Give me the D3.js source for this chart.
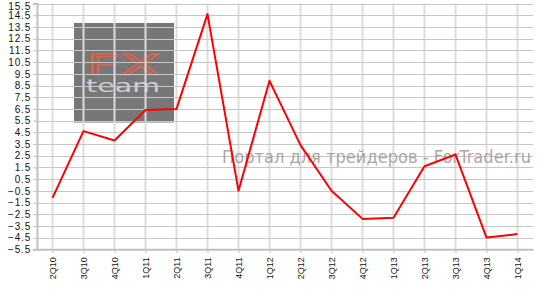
<!DOCTYPE html>
<html>
<head>
<meta charset="utf-8">
<script src="https://cdn.jsdelivr.net/npm/d3@7"></script>
<style>
  body { margin: 0; background: #fff; }
  svg { display: block; font-family: "DejaVu Sans", Verdana, sans-serif; }
</style>
</head>
<body>
<svg width="538" height="293"></svg>
<script>
// quarters and values
var quarters = ['2Q10', '3Q10', '4Q10', '1Q11', '2Q11', '3Q11', '4Q11', '1Q12',
                '2Q12', '3Q12', '4Q12', '1Q13', '2Q13', '3Q13', '4Q13', '1Q14'];
var values = [-1.1, 4.6, 3.8, 6.4, 6.5, 14.6, -0.5, 8.9,
              3.4, -0.5, -2.9, -2.8, 1.6, 2.6, -4.5, -4.2];
var yTicks = d3.range(-5.5, 15.6, 1);
var watermark = 'Портал для трейдеров - ForTrader.ru';

var svg = d3.select('svg');
var plot = {l: 37, r: 533, t: 3.6, b: 249.3};

var xScale = d3.scalePoint()
    .domain(quarters)
    .range([plot.l, plot.r])
    .padding(0.5);

var yScale = d3.scaleLinear()
    .domain([-5.5, 15.5])
    .range([plot.b, plot.t]);

// logo box (sits under the grid)
var logo = svg.append('g').attr('class', 'logo');
logo.append('rect')
    .attr('x', 74).attr('y', 23)
    .attr('width', 100).attr('height', 99.5)
    .attr('fill', '#777777');
logo.append('text')
    .attr('x', 86).attr('y', 75)
    .attr('textLength', 74).attr('lengthAdjust', 'spacingAndGlyphs')
    .style('font-size', '29px')
    .attr('fill', 'none').attr('stroke', '#d8644f').attr('stroke-width', 1.4)
    .text('FX');
logo.append('text')
    .attr('x', 86).attr('y', 92)
    .attr('textLength', 74).attr('lengthAdjust', 'spacingAndGlyphs')
    .style('font-size', '18px')
    .attr('fill', '#d0d0d0')
    .text('team');

// vertical grid
svg.append('g')
    .attr('class', 'x-grid')
    .selectAll('line')
    .data(quarters)
    .enter()
    .append('line')
    .attr('x1', d => xScale(d)).attr('x2', d => xScale(d))
    .attr('y1', plot.t).attr('y2', plot.b)
    .attr('stroke', '#dcdcdc').attr('stroke-width', 2);

// horizontal grid
svg.append('g')
    .attr('class', 'y-grid')
    .selectAll('line')
    .data(yTicks)
    .enter()
    .append('line')
    .attr('x1', plot.l).attr('x2', plot.r)
    .attr('y1', d => Math.round(yScale(d)) + 0.5).attr('y2', d => Math.round(yScale(d)) + 0.5)
    .attr('stroke', '#c6c6c6').attr('stroke-width', 1);

// watermark
svg.append('text')
    .attr('x', 222).attr('y', 163)
    .attr('textLength', 309).attr('lengthAdjust', 'spacingAndGlyphs')
    .style('font-size', '17px')
    .attr('fill', '#9e9494').attr('fill-opacity', 0.85)
    .text(watermark);

// y axis
var yAxis = svg.append('g')
    .attr('class', 'y axis')
    .attr('transform', 'translate(' + plot.l + ',0)')
    .call(d3.axisLeft(yScale).tickValues(yTicks).tickSize(4).tickPadding(2)
        .tickFormat(d3.format('.1f')));
yAxis.select('.domain').attr('stroke', '#c0c0c0').attr('stroke-width', 2);
yAxis.selectAll('.tick line').attr('stroke', '#c0c0c0');
yAxis.selectAll('.tick text')
    .style('font-size', '10px').style('letter-spacing', '0.8px')
    .attr('fill', '#111')
    .attr('dy', d => d === 15.5 ? '0.62em' : '0.32em');

// x axis
var xAxis = svg.append('g')
    .attr('class', 'x axis')
    .attr('transform', 'translate(0,' + plot.b + ')')
    .call(d3.axisBottom(xScale).tickSize(4).tickSizeOuter(0));
xAxis.select('.domain').attr('stroke', '#c0c0c0').attr('stroke-width', 2);
xAxis.selectAll('.tick line').attr('stroke', '#c0c0c0');
xAxis.selectAll('.tick text')
    .style('font-size', '9px')
    .attr('fill', '#111')
    .attr('text-anchor', 'end')
    .attr('transform', 'rotate(-90)')
    .attr('x', -8).attr('y', 0).attr('dy', '0.35em');

// data line
var line = d3.line()
    .x((d, i) => xScale(quarters[i]))
    .y(d => yScale(d));

svg.append('path')
    .datum(values)
    .attr('class', 'line-plot')
    .attr('d', line)
    .attr('fill', 'none')
    .attr('stroke', '#ff0000')
    .attr('stroke-width', 2)
    .attr('stroke-linejoin', 'round');
</script>
</body>
</html>
